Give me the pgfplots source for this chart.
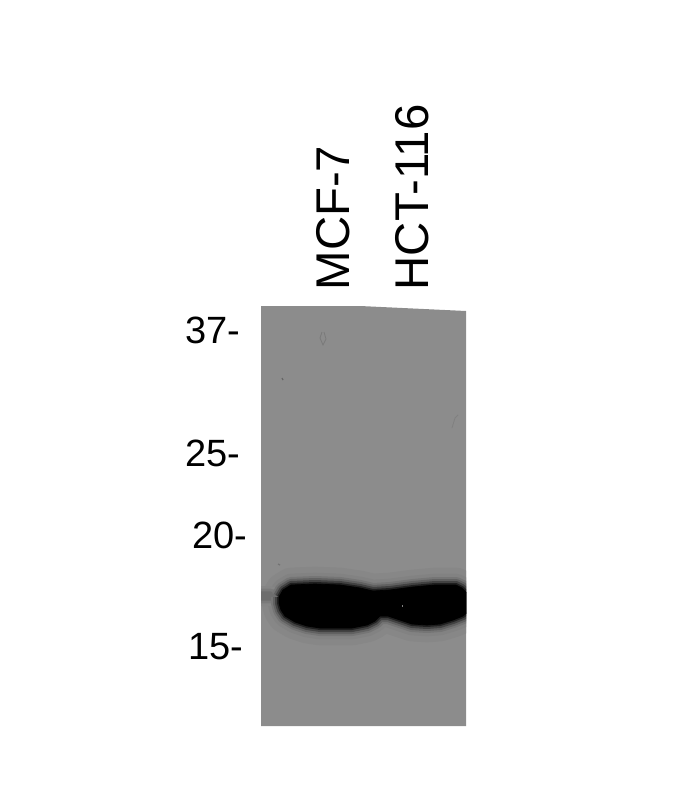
\documentclass[border=0pt]{standalone}
\usepackage{fontspec}
\setmainfont{Liberation Sans}
\usepackage{pgfplots}
\usepackage{pgfplotstable}
\pgfplotsset{compat=1.18}
% outlines in reference pixels
\pgfplotstableread{
x y
279 597
283 590
291 585
315 584
340 585
360 588
373 591
390 590
413 587
435 585
456 585
462 588
468 594
468 612
463 616
453 620
440 624
427 625
412 624
400 620
388 616
380 616
375 621
367 625
352 628
337 628
320 628
307 626
295 622
285 616
281 610
279 603
279 597
}\band
\pgfplotstableread{
x y
255 593
262 592
270 592
278 594
278 599
270 600
262 600
255 600
255 593
}\leftband
\pgfplotstableread{
x y
261 306
360 306
466 311
466 726
261 726
261 306
}\gel
\begin{document}
\begin{tikzpicture}
\path[use as bounding box] (0,0) rectangle (522.75pt,600pt);
\begin{axis}[
at={(195.75pt,55.5pt)}, anchor=south west,
scale only axis, width=153.75pt, height=315pt,
xmin=261, xmax=466, ymin=306, ymax=726, y dir=reverse,
axis line style={draw=none}, tick style={draw=none},
xtick={359.5,438.5}, xticklabels={MCF-7,HCT-116},
x tick label style={rotate=90, anchor=west, font=\fontsize{35.5}{35.5}\selectfont},
xticklabel pos=upper,
xtick pos=upper,
% shifts act in the rotated frame of the label
x tick label style={yshift=20pt, xshift=8.25pt},
ytick={330,453,535,647},
yticklabels={37-,25-,20-\hspace*{-5pt},15-\hspace*{-2pt}},
y tick label style={font=\fontsize{28.5}{28.5}\selectfont, anchor=east, xshift=-12pt},
]
\addplot[fill=black!45, draw=none] table {\gel};
% blurred edge of the bands
\addplot[fill=black!47, draw=black!47, line width=26pt, line join=round] table {\band};
\addplot[fill=black!49, draw=black!49, line width=17pt, line join=round] table {\band};
\addplot[fill=black!48, draw=black!48, line width=9pt, line join=round] table {\leftband};
\addplot[fill=black!52, draw=black!52, line width=5pt, line join=round] table {\leftband};
\addplot[fill=black!57, draw=black!57, line width=1pt, line join=round] table {\leftband};
\addplot[fill=black!54, draw=black!54, line width=12pt, line join=round] table {\band};
\addplot[fill=black!62, draw=black!62, line width=9pt, line join=round] table {\band};
\addplot[fill=black!74, draw=black!74, line width=6pt, line join=round] table {\band};
\addplot[fill=black!88, draw=black!88, line width=3pt, line join=round] table {\band};
\addplot[fill=black, draw=black, line width=0.5pt, line join=round] table {\band};
% small marks on the membrane
\addplot[draw=black!52, line width=0.6pt] coordinates {(322,332)(320,338)(323,345)(326,339)(324,332)};
\addplot[draw=black!50, line width=0.6pt] coordinates {(452,428)(455,418)(458,415)};
\addplot[draw=black!60, line width=1pt] coordinates {(282,378)(283,380)};
\addplot[draw=black!55, line width=1pt] coordinates {(278,564)(280,565)};
\addplot[draw=black!50, line width=0.8pt] coordinates {(402,606)(403,606)};
\end{axis}
\end{tikzpicture}
\end{document}
